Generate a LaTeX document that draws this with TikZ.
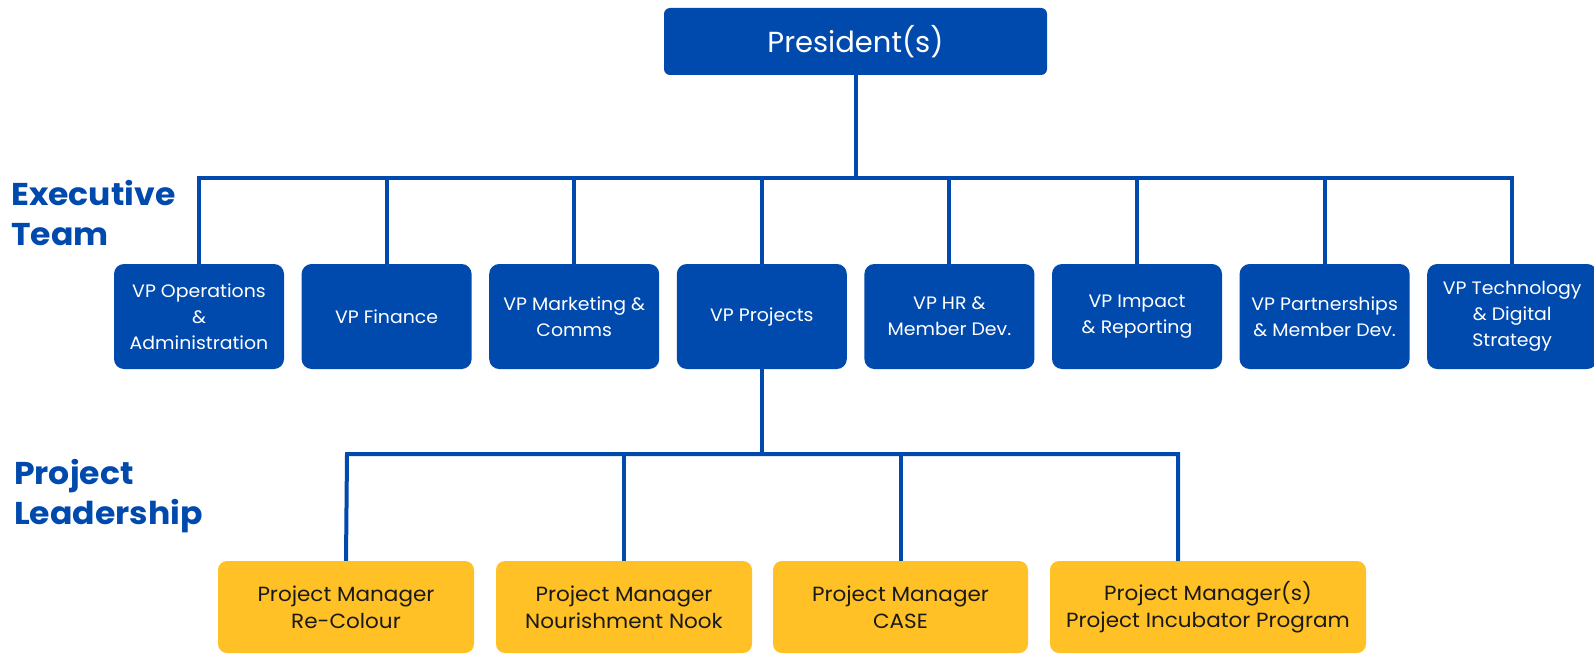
\documentclass[tikz,border=0pt]{standalone}
\usepackage{fontspec}
\setmainfont{Poppins}
\newfontfamily\widefont[FakeStretch=1.05]{Poppins}
\definecolor{bluebox}{HTML}{004AAD}
\definecolor{yellowbox}{HTML}{FFC125}
\definecolor{darktext}{HTML}{1A1A1A}
\begin{document}
\begin{tikzpicture}[x=1pt,y=-1pt,
  vpbox/.style={fill=bluebox, draw=none, rounded corners=10pt, minimum width=170pt, minimum height=105pt, inner sep=0pt, text=white, align=center, font=\widefont\fontsize{18}{26}\selectfont},
  pmbox/.style={fill=yellowbox, draw=none, rounded corners=9pt, minimum height=92pt, inner sep=0pt, text=darktext, align=center, font=\widefont\fontsize{20.5}{27}\selectfont},
  link/.style={draw=bluebox, line width=4pt},
  heading/.style={text=bluebox, anchor=north west, align=left, inner sep=0pt, font=\widefont\bfseries\fontsize{31.5}{40}\selectfont}
]
\useasboundingbox (0,0) rectangle (1594,655);

% President
\node[fill=bluebox, rounded corners=6pt, minimum width=383pt, minimum height=67pt, inner sep=0pt, text=white, font=\fontsize{29}{34}\selectfont] (pres) at (855.5,41.5) {President(s)};

% VP boxes
\node[vpbox] (vp1) at (199,316.5) {VP Operations\\\&\\Administration};
\node[vpbox] (vp2) at (386.6,316.5) {VP Finance};
\node[vpbox] (vp3) at (574.2,316.5) {VP Marketing \&\\Comms};
\node[vpbox] (vp4) at (761.8,316.5) {VP Projects};
\node[vpbox] (vp5) at (949.4,316.5) {VP HR \&\\Member Dev.};
\node[vpbox] (vp6) at (1137,316.5) {VP Impact\\\& Reporting};
\node[vpbox] (vp7) at (1324.6,316.5) {VP Partnerships\\\& Member Dev.};
\node[vpbox] (vp8) at (1512.2,316.5) {VP Technology\\\& Digital\\Strategy};

% Project manager boxes
\node[pmbox, minimum width=256pt] (pm1) at (346,607) {Project Manager\\Re-Colour};
\node[pmbox, minimum width=256pt] (pm2) at (624,607) {Project Manager\\Nourishment Nook};
\node[pmbox, minimum width=255pt] (pm3) at (900.5,607) {Project Manager\\CASE};
\node[pmbox, minimum width=316pt] (pm4) at (1208,607) {Project Manager(s)\\Project Incubator Program};

% Headings
\node[heading] (exec) at (11,180) {Executive\\Team};
\node[heading] (lead) at (14,459) {Project\\Leadership};

% Bus coordinates
\coordinate (busA) at (855.5,178);
\coordinate (busL) at (199,178);
\coordinate (busR) at (1512.2,178);
\coordinate (busB) at (761.8,454);
\coordinate (busBL) at (347,454);
\coordinate (busBR) at (1178,454);
\coordinate (pm4top) at (1178,561);

% Connectors: top level
\draw[link] (pres.south) -- (busA);
\draw[link] (vp1.north) -- (busL) -- (busR) -- (vp8.north);
\foreach \n in {vp2,vp3,vp4,vp5,vp6,vp7} {
  \draw[link] (\n.north) -- (\n.north |- busL);
}

% Connectors: project level
\draw[link] (vp4.south) -- (busB);
\draw[link] (pm1.north) -- (busBL) -- (busBR) -- (pm4top);
\draw[link] (pm2.north) -- (pm2.north |- busBL);
\draw[link] (pm3.north) -- (pm3.north |- busBL);
\end{tikzpicture}
\end{document}
